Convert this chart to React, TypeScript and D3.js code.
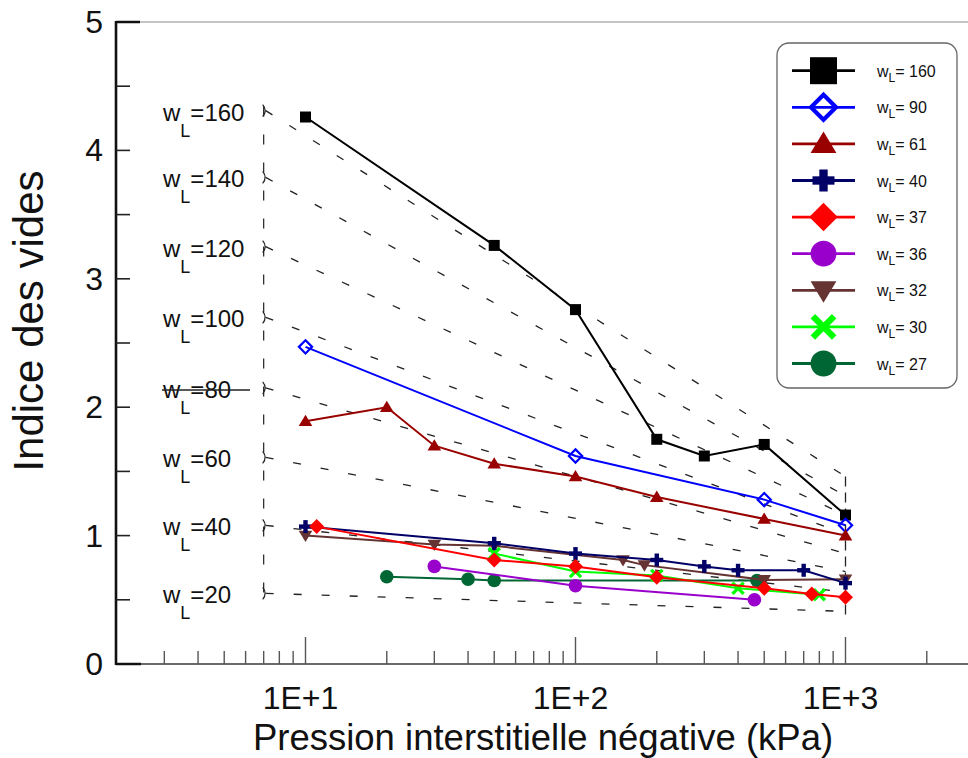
import React from 'react';
import * as d3 from 'd3';

const W = 968;
const H = 758;

// ---- data ----
const p160 = [10, 50, 100, 200, 300, 500, 1000];
const e160 = [4.26, 3.26, 2.76, 1.75, 1.62, 1.71, 1.16];
const p90 = [10, 100, 500, 1000];
const e90 = [2.47, 1.62, 1.28, 1.08];
const p61 = [10, 20, 30, 50, 100, 200, 500, 1000];
const e61 = [1.89, 2.0, 1.7, 1.56, 1.46, 1.3, 1.13, 1.0];
const p40 = [10, 50, 100, 200, 300, 400, 700, 1000];
const e40 = [1.07, 0.94, 0.86, 0.81, 0.76, 0.73, 0.73, 0.63];
const p37 = [11, 50, 100, 200, 500, 750, 1000];
const e37 = [1.07, 0.81, 0.76, 0.675, 0.59, 0.545, 0.52];
const p36 = [30, 100, 460];
const e36 = [0.76, 0.61, 0.5];
const p32 = [10, 30, 50, 150, 180, 500, 1000];
const e32 = [1.0, 0.93, 0.92, 0.81, 0.77, 0.655, 0.66];
const p30 = [50, 100, 200, 400, 800];
const e30 = [0.86, 0.72, 0.69, 0.59, 0.54];
const p27 = [20, 40, 50, 470];
const e27 = [0.68, 0.66, 0.65, 0.65];

const legendLabels = ['160', '90', '61', '40', '37', '36', '32', '30', '27'];

// reference lines (w_L iso-lines)
const refWL = ['160', '140', '120', '100', '80', '60', '40', '20'];
const refLeftE = [4.31, 3.79, 3.25, 2.7, 2.15, 1.61, 1.08, 0.55];
const refRightE = [1.46, 1.31, 1.16, 1.01, 0.86, 0.72, 0.56, 0.41];
const refLeftP = 7;
const refRightP = 1000;

// axes
const yTicks = [0, 1, 2, 3, 4, 5];
const yMinorTicks = [0.5, 1.5, 2.5, 3.5, 4.5];
const xMajorTicks = [10, 100, 1000];
const xMajorLabels = ['1E+1', '1E+2', '1E+3'];
const xMinorTicks = [3, 4, 5, 6, 7, 8, 9, 20, 30, 40, 50, 60, 70, 80, 90, 200, 300, 400, 500, 600, 700, 800, 900, 2000];

// ---- styles ----
const seriesStyle: Record<string, { color: string; marker: string }> = {
  '160': { color: '#000000', marker: 'square' },
  '90': { color: '#0000ff', marker: 'diamondOpen' },
  '61': { color: '#990000', marker: 'triUp' },
  '40': { color: '#000066', marker: 'plus' },
  '37': { color: '#ff0000', marker: 'diamond' },
  '36': { color: '#9900cc', marker: 'circle' },
  '32': { color: '#663333', marker: 'triDown' },
  '30': { color: '#00ff00', marker: 'cross' },
  '27': { color: '#006633', marker: 'circle' },
};

const seriesData: Record<string, [number[], number[]]> = {
  '160': [p160, e160],
  '90': [p90, e90],
  '61': [p61, e61],
  '40': [p40, e40],
  '37': [p37, e37],
  '36': [p36, e36],
  '32': [p32, e32],
  '30': [p30, e30],
  '27': [p27, e27],
};

const drawOrder = ['160', '90', '61', '27', '36', '32', '30', '40', '37'];

const FONT = "'Liberation Sans', Arial, sans-serif";

const x = d3.scaleLog().domain([10, 1000]).range([305.5, 845.5]);
const y = d3.scaleLinear().domain([0, 5]).range([664, 22]);

function Marker({ type, cx, cy, k, color }: { type: string; cx: number; cy: number; k: number; color: string }) {
  switch (type) {
    case 'square': {
      const s = k === 1 ? 11 : 27;
      return <rect x={cx - s / 2} y={cy - s / 2} width={s} height={s} fill={color} />;
    }
    case 'diamondOpen': {
      const h = 6.6 * k;
      return (
        <polygon
          points={`${cx},${cy - h} ${cx + h},${cy} ${cx},${cy + h} ${cx - h},${cy}`}
          fill="none"
          stroke={color}
          strokeWidth={2.2 * k}
        />
      );
    }
    case 'diamond': {
      const h = 7.5 * k;
      return <polygon points={`${cx},${cy - h} ${cx + h},${cy} ${cx},${cy + h} ${cx - h},${cy}`} fill={color} />;
    }
    case 'triUp': {
      const w = 6.8 * k;
      const t = 6.5 * k;
      const b = 4.8 * k;
      return <polygon points={`${cx - w},${cy + b} ${cx + w},${cy + b} ${cx},${cy - t}`} fill={color} />;
    }
    case 'triDown': {
      const w = 6.8 * k;
      const t = 6.5 * k;
      const b = 4.8 * k;
      return <polygon points={`${cx - w},${cy - b} ${cx + w},${cy - b} ${cx},${cy + t}`} fill={color} />;
    }
    case 'plus': {
      const L = (k === 1 ? 6.5 : 11);
      const th = 2.2 * k;
      return (
        <g fill={color}>
          <rect x={cx - L} y={cy - th} width={2 * L} height={2 * th} />
          <rect x={cx - th} y={cy - L} width={2 * th} height={2 * L} />
        </g>
      );
    }
    case 'circle': {
      return <circle cx={cx} cy={cy} r={6.8 * k} fill={color} />;
    }
    case 'cross': {
      const a = 5.6 * k;
      return (
        <g stroke={color} strokeWidth={3.3 * k} strokeLinecap="butt">
          <line x1={cx - a} y1={cy - a} x2={cx + a} y2={cy + a} />
          <line x1={cx - a} y1={cy + a} x2={cx + a} y2={cy - a} />
        </g>
      );
    }
    default:
      return null;
  }
}

export default function App() {
  const line = d3
    .line<[number, number]>()
    .x((d) => x(d[0]))
    .y((d) => y(d[1]));

  const xl = x(refLeftP);
  const xr = x(refRightP);

  const legendX = 777;
  const legendY = 43;
  const rowY0 = 70.7;
  const rowStep = 36.6;

  return (
    <svg
      width={W}
      height={H}
      viewBox={`0 0 ${W} ${H}`}
      style={{ position: 'absolute', left: 0, top: 0, background: '#fff' }}
      fontFamily={FONT}
    >
      <rect x={0} y={0} width={W} height={H} fill="#fff" />

      {/* frame */}
      <line x1={116} y1={22} x2={W} y2={22} stroke="#8a8a8a" strokeWidth={1.2} />
      <line x1={116} y1={664} x2={W} y2={664} stroke="#6a6a6a" strokeWidth={2} />
      <line x1={116} y1={22} x2={140} y2={22} stroke="#111" strokeWidth={2.5} />
      <line x1={116} y1={664} x2={141} y2={664} stroke="#111" strokeWidth={2.5} />
      <line x1={116} y1={21} x2={116} y2={665} stroke="#111" strokeWidth={2.6} />

      {/* y ticks */}
      {yTicks.concat(yMinorTicks).map((t) =>
        t === 0 || t === 5 ? null : (
          <line key={'yt' + t} x1={116} x2={130} y1={y(t)} y2={y(t)} stroke="#222" strokeWidth={1.6} />
        )
      )}
      {yTicks.map((t) => (
        <text key={'yl' + t} x={103} y={y(t) + 11} fontSize={32} textAnchor="end" fill="#111">
          {t}
        </text>
      ))}

      {/* x ticks */}
      {xMinorTicks.map((t) => (
        <line key={'xm' + t} x1={x(t)} x2={x(t)} y1={664} y2={651} stroke="#555" strokeWidth={1.4} />
      ))}
      {xMajorTicks.map((t, i) => (
        <g key={'xM' + t}>
          <line x1={x(t)} x2={x(t)} y1={664} y2={637} stroke="#555" strokeWidth={1.4} />
          <text x={x(t) - 5} y={709} fontSize={32} textAnchor="middle" fill="#111">
            {xMajorLabels[i]}
          </text>
        </g>
      ))}

      {/* axis titles */}
      <text x={543} y={750} fontSize={36.5} textAnchor="middle" fill="#111">
        Pression interstitielle négative (kPa)
      </text>
      <text
        transform={`translate(43,321) rotate(-90)`}
        fontSize={42}
        textAnchor="middle"
        fill="#111"
      >
        Indice des vides
      </text>

      {/* reference lines */}
      <g stroke="#222" fill="none">
        <line x1={xl} x2={xl} y1={y(refLeftE[0]) - 4} y2={y(refLeftE[refLeftE.length - 1])} strokeWidth={1.2} strokeDasharray="10,18" />
        <line x1={xr} x2={xr} y1={y(refRightE[0])} y2={y(refRightE[refRightE.length - 1]) + 5} strokeWidth={1.3} strokeDasharray="10,6" />
        {refWL.map((w, i) => (
          <g key={'ref' + w}>
            <line
              x1={xl + 2}
              y1={y(refLeftE[i])}
              x2={xr}
              y2={y(refRightE[i])}
              strokeWidth={1.3}
              strokeDasharray="8,20"
            />
            <path
              d={`M${xl - 1},${y(refLeftE[i]) - 6} Q${xl + 4},${y(refLeftE[i])} ${xl - 1},${y(refLeftE[i]) + 6}`}
              strokeWidth={1.2}
            />
          </g>
        ))}
      </g>
      {refWL.map((w, i) => (
        <text key={'rl' + w} x={163} y={y(refLeftE[i]) + 10} fontSize={24} fill="#111">
          w
          <tspan fontSize={18} dy={16}>
            L
          </tspan>
          <tspan dy={-16}>={w}</tspan>
        </text>
      ))}
      <line x1={162} x2={250} y1={y(refLeftE[4]) + 2} y2={y(refLeftE[4]) + 2} stroke="#222" strokeWidth={1.4} />

      {/* series */}
      {drawOrder.map((key) => {
        const [ps, es] = seriesData[key];
        const st = seriesStyle[key];
        const pts = ps.map((p, i) => [p, es[i]] as [number, number]);
        return (
          <g key={'s' + key}>
            <path d={line(pts) || ''} fill="none" stroke={st.color} strokeWidth={2} />
            {pts.map((d, i) => (
              <Marker key={i} type={st.marker} cx={x(d[0])} cy={y(d[1])} k={1} color={st.color} />
            ))}
          </g>
        );
      })}

      {/* legend */}
      <rect x={legendX} y={legendY} width={180} height={345} rx={12} ry={12} fill="#fff" stroke="#666" strokeWidth={1.3} />
      {legendLabels.map((key, i) => {
        const st = seriesStyle[key];
        const ry = rowY0 + i * rowStep;
        return (
          <g key={'lg' + key}>
            <line x1={792} x2={855} y1={ry} y2={ry} stroke={st.color} strokeWidth={2.8} />
            <Marker type={st.marker} cx={823.5} cy={ry} k={1.9} color={st.color} />
            <text x={877} y={ry + 6} fontSize={16} fill="#111">
              w
              <tspan fontSize={12} dy={5}>
                L
              </tspan>
              <tspan dy={-5}>= {key}</tspan>
            </text>
          </g>
        );
      })}
    </svg>
  );
}
